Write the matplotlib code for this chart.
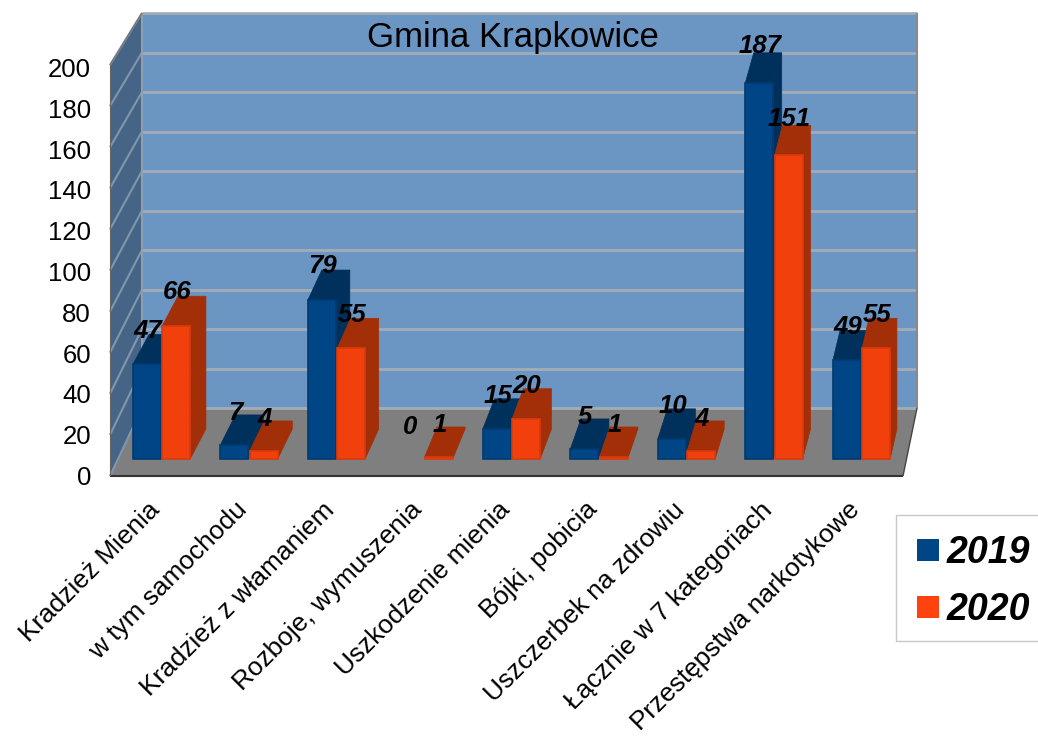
import matplotlib
matplotlib.use('Agg')
import matplotlib.pyplot as plt
from matplotlib.patches import Polygon, Rectangle

plt.rcParams['font.family'] = ['Liberation Sans', 'DejaVu Sans']

categories = ['Kradzież Mienia', 'w tym samochodu', 'Kradzież z włamaniem', 'Rozboje, wymuszenia',
              'Uszkodzenie mienia', 'Bójki, pobicia', 'Uszczerbek na zdrowiu',
              'Łącznie w 7 kategoriach', 'Przestępstwa narkotykowe']
values_2019 = [47, 7, 79, 0, 15, 5, 10, 187, 49]
values_2020 = [66, 4, 55, 1, 20, 1, 4, 151, 55]
y_ticks = list(range(0, 201, 20))
series_names = ['2019', '2020']
title = 'Gmina Krapkowice'

W, H = 1038, 737
BLUE, BLUE_DARK, BLUE_EDGE = '#004586', '#00305c', '#003a70'
ORANGE, ORANGE_DARK, ORANGE_EDGE = '#f2400c', '#a32f08', '#d93a0c'

# data space: x in categories, y in counted cases, 87.5 px per category and about 2 px per case
PX_X = 87.5
PX_Y = 2.012
X0 = 161.5
Y0 = 459


def px(x, y):
    # picture pixels -> data, for the box of the chart
    return (x - X0) / PX_X, (Y0 - y) / PX_Y


def wall(ax, pts, color, z=1):
    ax.add_patch(Polygon([px(*p) for p in pts], closed=True, fc=color, ec='none', zorder=z))


def line(ax, p, q, color, lw, z=2, ls='-'):
    a, b = px(*p), px(*q)
    ax.plot([a[0], b[0]], [a[1], b[1]], color=color, lw=lw, zorder=z, ls=ls, solid_capstyle='butt')


def bar3d(ax, xc, val, face, dark, edge, z):
    w = 0.32
    left, right = xc - w / 2, xc + w / 2
    # the depth shift gets smaller going right, the box is seen in perspective
    dx = (16 - 9 * xc / 8) / PX_X
    dy = 30 / PX_Y
    if val > 0:
        ax.add_patch(Polygon([(right, 0), (right + dx, dy), (right + dx, val + dy), (right, val)],
                             closed=True, fc=dark, ec=dark, lw=0.5, zorder=z))
        ax.add_patch(Polygon([(left, val), (left + dx, val + dy), (right + dx, val + dy), (right, val)],
                             closed=True, fc=dark, ec=dark, lw=0.5, zorder=z))
        ax.add_patch(Rectangle((left, 0), w, val, fc=face, ec=edge, lw=1.2, zorder=z + 0.1))


fig = plt.figure(figsize=(W / 100, H / 100), dpi=100)
ax = fig.add_axes([0, 0, 1, 1])
ax.set_xlim(-X0 / PX_X, (W - X0) / PX_X)
ax.set_ylim((Y0 - H) / PX_Y, Y0 / PX_Y)
ax.axis('off')

# box: back wall, left wall, floor
wall(ax, [(142, 13), (917, 13), (917, 408), (142, 408)], '#6b95c3')
wall(ax, [(110, 65), (142, 13), (142, 408), (110, 476)], '#456486')
wall(ax, [(110, 476), (142, 408), (917, 408), (903, 476)], '#7f7f7f')

for v in y_ticks:
    back = 408 - 1.975 * v
    front = 476 - 2.055 * v
    line(ax, (142, back), (917, back), '#a3acb5', 2.0)
    line(ax, (110, front), (142, back), '#8296ab', 1.5)
    ax.text(*px(91, 478 - 2.04 * v), str(v), ha='right', va='center', fontsize=18.5, color='black')

line(ax, (142, 13), (142, 408), '#8f9fb0', 1.5)
line(ax, (917, 13), (917, 408), '#8a8a8a', 1.5)
line(ax, (110, 476), (903, 476), '#333333', 1.5, z=3)
line(ax, (110, 65), (142, 13), '#777777', 1.0, z=3)
line(ax, (110, 65), (110, 476), '#666666', 0.8, z=3)
line(ax, (903, 476), (917, 408), '#444444', 1.0, z=3)

for i in range(len(categories)):
    bar3d(ax, i - 0.167, values_2019[i], BLUE, BLUE_DARK, BLUE_EDGE, 4 + i)
    bar3d(ax, i + 0.167, values_2020[i], ORANGE, ORANGE_DARK, ORANGE_EDGE, 4.5 + i)
    for off, v in ((-0.16, values_2019[i]), (0.175, values_2020[i])):
        ax.text(i + off, v * 1.012 + 16, str(v), ha='center', va='center', fontsize=18.5,
                fontweight='bold', fontstyle='italic', color='black', zorder=30)
    ax.text(i - 0.065, px(0, 506)[1], categories[i], rotation=45, rotation_mode='anchor', ha='right', va='center',
            fontsize=18.9, color='black')

ax.text(*px(513, 37), title, ha='center', va='center', fontsize=25, color='black', zorder=30)

# legend box, its right side runs off the picture
x0, y0 = px(896, 641)
x1, y1 = px(1042, 515)
ax.add_patch(Rectangle((x0, y0), x1 - x0, y1 - y0, fc='white', ec='#c8c8c8', lw=1.0, zorder=2))
for name, col, yc in zip(series_names, ['#004586', '#ff420e'], [550, 606.5]):
    a, b = px(917, yc + 11)
    c, d = px(939, yc - 11)
    ax.add_patch(Rectangle((a, b), c - a, d - b, fc=col, ec='none', zorder=3))
    ax.text(*px(947, yc + 3), name, ha='left', va='center', fontsize=27, fontweight='bold',
            fontstyle='italic', color='black', zorder=3)

fig.savefig('out.png', dpi=100)
